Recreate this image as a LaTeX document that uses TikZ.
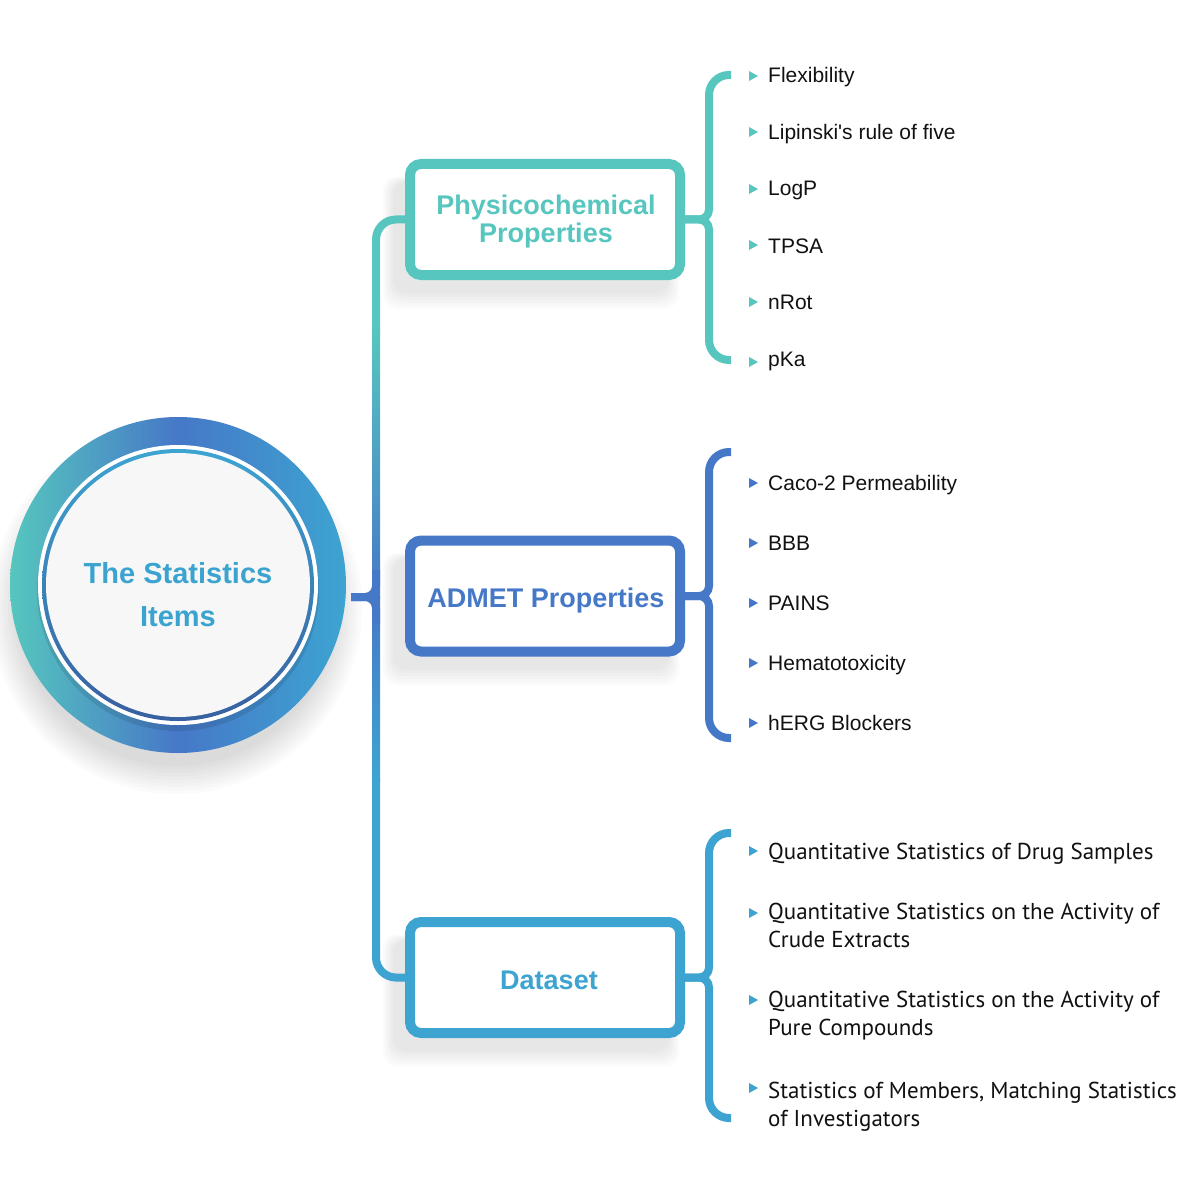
\documentclass[tikz,border=0pt]{standalone}
\usepackage{fontspec}
\setmainfont{Liberation Sans}
\newfontfamily\srcfont{PT Sans}
\newfontfamily\plainsans{Liberation Sans}
\usetikzlibrary{calc}
\definecolor{cteal}{HTML}{56C6BE}
\definecolor{cblue}{HTML}{4678C8}
\definecolor{clight}{HTML}{3DA4D1}
\definecolor{ctext}{HTML}{3BA3D0}
\definecolor{cfill}{HTML}{F7F7F7}
\definecolor{cink}{HTML}{111111}
\tikzset{
  catbox/.style={draw=#1, line width=10pt, rounded corners=11pt, fill=white,
    minimum width=270pt, minimum height=111pt, inner sep=0pt},
  cattext/.style={text=#1, font=\bfseries\fontsize{27}{28}\selectfont, align=center, inner sep=0pt},
  trunkline/.style={line width=8pt, draw=#1},
  braceline/.style={line width=8pt, draw=#1},
  item/.style={anchor=base west, font=\fontsize{21}{25}\selectfont, text=cink, inner sep=0pt},
  ditem/.style={anchor=base west, font=\srcfont\fontsize{23}{28}\selectfont, text=cink, inner sep=0pt, align=left},
}
\newcommand{\bullmark}[3]{\fill[#1] (#2,#3) ++(-9,-5) -- ++(9,5) -- ++(-9,5) -- cycle;}
\begin{document}
\begin{tikzpicture}[x=1pt,y=-1pt]
\useasboundingbox (0,0) rectangle (1185,1198);
\fill[white] (0,0) rectangle (1185,1198);

% ---------- shadows ----------
\foreach \i in {0,...,8}{
  \fill[black, opacity=0.016] (176,608) circle ({158pt+\i*3.5pt});
}
\foreach \yc in {219.5,596,977.5}{
  \foreach \i in {0,...,5}{
    \fill[black, opacity=0.014, rounded corners=14pt]
      ($(545,\yc)+(-146-\i*2,-50-\i*1)+(-6,12)$) rectangle ($(545,\yc)+(130+\i*2,62+\i*3)+(-6,12)$);
  }
}

% ---------- central circle ----------
\shade[left color=cteal, right color=clight, middle color=cblue] (178,585) circle (168pt);
\fill[black, opacity=0.10] (178,590) circle (141pt);
\fill[white] (178,585) circle (140pt);
\shade[top color=clight, bottom color=cblue!80!black] (178,585) circle (136pt);
\node[circle, fill=cfill, minimum size=264pt, inner sep=0pt] (root) at (178,585) {};
\node[anchor=north, text=ctext, font=\bfseries\fontsize{29}{43}\selectfont, align=center, inner sep=0pt]
  (roott) at (178,562) {The Statistics\\Items};

% ---------- category boxes ----------
\node[catbox=cteal] (b1) at (545,219.5) {};
\node[catbox=cblue] (b2) at (545,596) {};
\node[catbox=clight] (b3) at (545,977.5) {};
\node[cattext=cteal, anchor=north] (b1t) at (546,194.5) {Physicochemical\\Properties};
\node[cattext=cblue, anchor=base] (b2t) at (546,607) {ADMET Properties};
\node[cattext=clight, anchor=base] (b3t) at (549,989) {Dataset};

% ---------- trunk ----------
\coordinate (cusp) at (351,597);
\shade[top color=cteal, bottom color=cblue] (372,330) rectangle (380,598);
\shade[top color=cblue, bottom color=clight] (372,596) rectangle (380,780);
\draw[trunkline=cteal, rounded corners=20pt] (b1.west) -- (376,219.5) -- (376,332);
\draw[trunkline=clight, rounded corners=20pt] (b3.west) -- (376,977.5) -- (376,778);
\draw[trunkline=cblue, rounded corners=11pt] (376,570) -- (376,597) -- (cusp);
\draw[trunkline=cblue, rounded corners=11pt] (376,624) -- (376,597) -- (cusp);

% ---------- braces ----------
\coordinate (t1) at (731,75);  \coordinate (u1) at (731,360);
\coordinate (t2) at (731,452); \coordinate (u2) at (731,738);
\coordinate (t3) at (731,833); \coordinate (u3) at (731,1118);
\draw[braceline=cteal] (t1) [rounded corners=20pt]-- (709,75) [rounded corners=10pt]-- (709,219.5) -- (b1.east);
\draw[braceline=cteal] (u1) [rounded corners=20pt]-- (709,360) [rounded corners=10pt]-- (709,219.5) -- (b1.east);
\draw[braceline=cblue] (t2) [rounded corners=20pt]-- (709,452) [rounded corners=10pt]-- (709,596) -- (b2.east);
\draw[braceline=cblue] (u2) [rounded corners=20pt]-- (709,738) [rounded corners=10pt]-- (709,596) -- (b2.east);
\draw[braceline=clight] (t3) [rounded corners=20pt]-- (709,833) [rounded corners=10pt]-- (709,977.5) -- (b3.east);
\draw[braceline=clight] (u3) [rounded corners=20pt]-- (709,1118) [rounded corners=10pt]-- (709,977.5) -- (b3.east);

% ---------- items: physicochemical ----------
\bullmark{cteal}{758}{76}  \node[item] (p1) at (768,83) {Flexibility};
\bullmark{cteal}{758}{132} \node[item] (p2) at (768,140) {Lipinski{\plainsans'}s rule of five};
\bullmark{cteal}{758}{189} \node[item] (p3) at (768,196) {LogP};
\bullmark{cteal}{758}{245} \node[item] (p4) at (768,253) {TPSA};
\bullmark{cteal}{758}{302} \node[item] (p5) at (768,309) {nRot};
\bullmark{cteal}{758}{362} \node[item] (p6) at (768,366) {pKa};

% ---------- items: ADMET ----------
\bullmark{cblue}{758}{483} \node[item] (a1) at (768,490) {Caco-2 Permeability};
\bullmark{cblue}{758}{543} \node[item] (a2) at (768,550) {BBB};
\bullmark{cblue}{758}{603} \node[item] (a3) at (768,610) {PAINS};
\bullmark{cblue}{758}{663} \node[item] (a4) at (768,670) {Hematotoxicity};
\bullmark{cblue}{758}{723} \node[item] (a5) at (768,730) {hERG Blockers};

% ---------- items: dataset (base anchor = last line) ----------
\bullmark{clight}{758}{851}  \node[ditem] (d1) at (768,859) {Quantitative Statistics of Drug Samples};
\bullmark{clight}{758}{913}  \node[ditem] (d2) at (768,947) {Quantitative Statistics on the Activity of\\Crude Extracts};
\bullmark{clight}{758}{1000} \node[ditem] (d3) at (768,1035) {Quantitative Statistics on the Activity of\\Pure Compounds};
\bullmark{clight}{758}{1088} \node[ditem] (d4) at (768,1126) {Statistics of Members, Matching Statistics\\of Investigators};
\end{tikzpicture}
\end{document}
